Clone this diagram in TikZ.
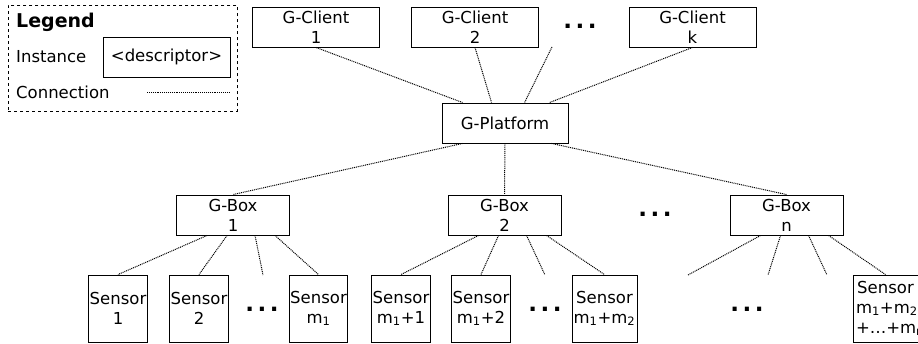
\documentclass[tikz,border=0pt]{standalone}
\usepackage{fontspec}
\setmainfont{DejaVu Sans}
\usepackage{tikz}
\usetikzlibrary{calc}
\tikzstyle{inst} = [draw,line width=0.9pt,align=center,inner sep=1pt]
\tikzstyle{conn} = [line width=1pt,dash pattern=on 1pt off 0.9pt]
\tikzstyle{more} = [inner sep=0pt,font=\bfseries\fontsize{23}{23}\selectfont]
\newcommand{\moredots}{.\hskip3.5pt.\hskip3.5pt.}

\begin{document}
\begin{tikzpicture}[x=1pt,y=-1pt,font=\fontsize{16.5}{20}\selectfont]
	% Frame of the picture (pixel units, origin top left)
	\useasboundingbox (0,0) rectangle (918,343);
	\clip (0,0) rectangle (918,343);

	% Legend:
	\node [draw,dashed,line width=0.9pt,anchor=north west,minimum width=229pt,minimum height=106pt] (legend) at (8,5) {};
	\node [anchor=west,inner sep=0pt,font=\bfseries\fontsize{19}{21}\selectfont] (legtitle) at (16,22) {Legend};
	\node [anchor=west,inner sep=0pt] (leginst) at (16,57) {Instance};
	\node [inst,minimum width=127pt,minimum height=40pt] (legbox) at (166.5,57) {<descriptor>};
	\node [anchor=west,inner sep=0pt] (legconn) at (16,92) {Connection};
	\coordinate (legc1) at (147,92);
	\coordinate (legc2) at (230,92);
	\draw [conn] (legc1) -- (legc2);

	% Clients:
	\begin{scope}[every node/.style={inst,minimum width=127pt,minimum height=40pt}]
		\node (c1) at (316,27)   {G-Client\\1};
		\node (c2) at (475,27)   {G-Client\\2};
		\node (ck) at (692.5,27) {G-Client\\k};
	\end{scope}
	\node [more] (cdots) at (580,26) {\moredots};

	% Platform:
	\node [inst,minimum width=126pt,minimum height=40pt] (plat) at (505,123) {G-Platform};
	\coordinate (cfree) at (552,47);
	\draw [conn] (c1.south) -- ($(plat.north west)+(21,0)$);
	\draw [conn] (c2.south) -- ($(plat.north west)+(50,0)$);
	\draw [conn] (cfree)    -- ($(plat.north west)+(83,0)$);
	\draw [conn] (ck.south) -- ($(plat.north west)+(108,0)$);

	% Boxes:
	\begin{scope}[every node/.style={inst,minimum width=113pt,minimum height=40pt}]
		\node (gb1) at (233,215)   {G-Box\\1};
		\node (gb2) at (504.5,215) {G-Box\\2};
		\node (gbn) at (786.5,215) {G-Box\\n};
	\end{scope}
	\node [more] (gbdots) at (655,214) {\moredots};
	\draw [conn] ($(plat.south west)+(21,0)$)  -- (gb1.north);
	\draw [conn] (plat.south)                   -- (gb2.north);
	\draw [conn] ($(plat.south west)+(110,0)$) -- (gbn.north);

	% Sensors:
	\begin{scope}[every node/.style={inst,minimum width=58pt,minimum height=67pt}]
		\node (s1)   at (118,308.5) {Sensor\\1};
		\node (s2)   at (199,308.5) {Sensor\\2};
		\node (sm1)  at (318.5,308.5) {Sensor\\m\textsubscript{1}};
		\node (sm1a) at (401,308.5) {Sensor\\m\textsubscript{1}+1};
		\node (sm1b) at (481,308.5) {Sensor\\m\textsubscript{1}+2};
		\node [minimum width=65pt] (sm2) at (604.5,308.5) {Sensor\\m\textsubscript{1}+m\textsubscript{2}};
		\node [text width=59pt,inner xsep=3pt,inner ysep=1pt] (smn) at (885.5,308.5) {Sensor\\m\textsubscript{1}+m\textsubscript{2}\\+\dots+m\textsubscript{n}};
	\end{scope}
	\node [more] (sdots1) at (262,309) {\moredots};
	\node [more] (sdots2) at (545,309) {\moredots};
	\node [more] (sdots3) at (747,309) {\moredots};

	% Open ends of connections:
	\coordinate (f1) at (263,275);
	\coordinate (f2) at (545,275);
	\coordinate (f3) at (688,275);
	\coordinate (f4) at (768,275);
	\coordinate (f5) at (827,275);
	\foreach \b/\o/\t in {gb1/31/s1.north,gb1/51/s2.north,gb1/79/f1,gb1/99/sm1.north,
		gb2/31/sm1a.north,gb2/51/sm1b.north,gb2/79/f2,gb2/99/sm2.north,
		gbn/31/f3,gbn/51/f4,gbn/79/f5,gbn/99/smn.north}{%
		\draw [conn] ($(\b.south west)+(\o,0)$) -- (\t);
	}
\end{tikzpicture}
\end{document}
